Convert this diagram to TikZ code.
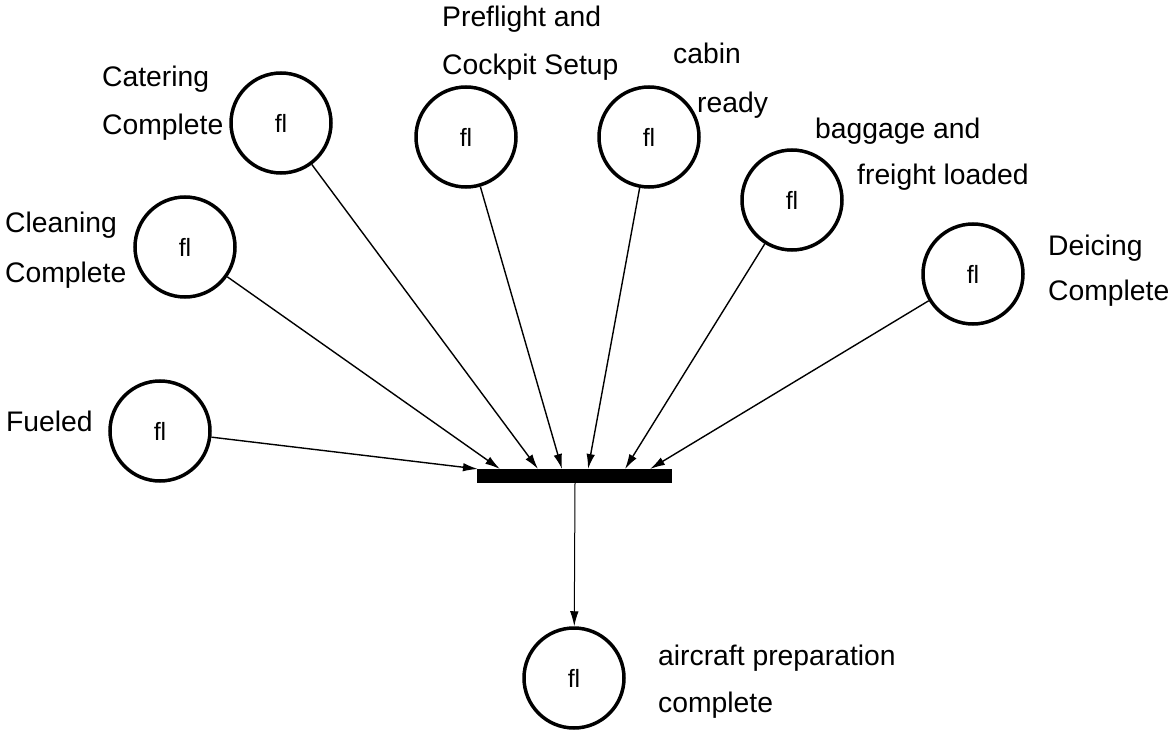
\documentclass[tikz,border=0pt]{standalone}
\usepackage{fontspec}
\setmainfont{Liberation Sans}[Ligatures=NoCommon]
\usetikzlibrary{arrows.meta}
\begin{document}
\begin{tikzpicture}[x=1pt,y=-1pt,
  place/.style={draw,circle,line width=3.5pt,minimum size=100pt,inner sep=0pt,
    font=\fontsize{25}{30}\selectfont},
  lbl/.style={anchor=base west,inner sep=0pt,font=\fontsize{28.3}{34}\selectfont},
  trans/.style={fill=black,draw=none,minimum width=195pt,minimum height=14pt,inner sep=0pt},
  arc/.style={line width=1.4pt,-{Latex[length=15pt,width=8.5pt]}}]
\useasboundingbox (0,0) rectangle (1173,730);

% places
\node[place] (cat) at (281,123) {fl};
\node[place] (pre) at (466,137) {fl};
\node[place] (cab) at (649,137) {fl};
\node[place] (bag) at (792,200) {fl};
\node[place] (dei) at (973,274) {fl};
\node[place] (cln) at (185,247) {fl};
\node[place] (fue) at (160,431) {fl};
\node[place] (out) at (574,678) {fl};

% synchronising transition
\node[trans] (bar) at (574.5,476) {};

% labels
\node[lbl] (catA) at (102,87)  {Catering};
\node[lbl] (catB) at (102,135) {Complete};
\node[lbl] (preA) at (442,27)  {Preflight and};
\node[lbl] (preB) at (442,75)  {Cockpit Setup};
\node[lbl] (cabA) at (673,64)  {cabin};
\node[lbl] (cabB) at (697,113) {ready};
\node[lbl] (bagA) at (815,139) {baggage and};
\node[lbl] (bagB) at (857,185) {freight loaded};
\node[lbl] (deiA) at (1048,255) {Deicing};
\node[lbl] (deiB) at (1048,300) {Complete};
\node[lbl] (clnA) at (5,233)   {Cleaning};
\node[lbl] (clnB) at (5,283)   {Complete};
\node[lbl] (fueA) at (6,431)   {Fueled};
\node[lbl] (outA) at (658,665) {aircraft preparation};
\node[lbl] (outB) at (658,712) {complete};

% arrow heads on the top edge of the bar
\coordinate (tcln) at (500,469);
\coordinate (tcat) at (538,469);
\coordinate (tpre) at (562,469);
\coordinate (tcab) at (588,469);
\coordinate (tbag) at (625,469);
\coordinate (tdei) at (650,469);
\coordinate (tfue) at (478,469);
\coordinate (bout) at (575,483);

% arcs
\draw[arc] (fue) -- (tfue);
\draw[arc] (cln) -- (tcln);
\draw[arc] (cat) -- (tcat);
\draw[arc] (pre) -- (tpre);
\draw[arc] (cab) -- (tcab);
\draw[arc] (bag) -- (tbag);
\draw[arc] (dei) -- (tdei);
\draw[arc,line width=1pt] (bout) -- (out);
\end{tikzpicture}
\end{document}
